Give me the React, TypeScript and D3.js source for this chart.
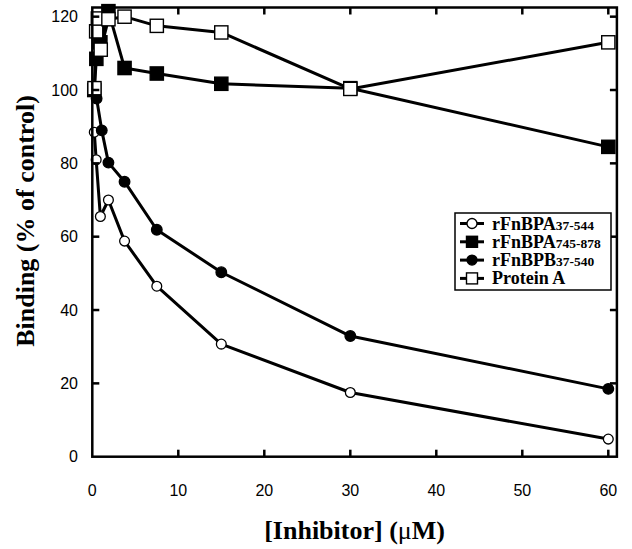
import { useEffect, useRef } from "react";
import * as d3 from "d3";

// concentrations (uM) and binding values (% of control)
const openCircleX = [0.23, 0.45, 0.94, 1.875, 3.75, 7.5, 15, 30, 60];
const openCircleY = [88.5, 81, 65.5, 70, 58.8, 46.5, 30.7, 17.5, 4.8];

const filledSquareX = [0.23, 0.47, 0.94, 1.875, 3.75, 7.5, 15, 30, 60];
const filledSquareY = [100, 108.5, 113, 121.5, 106, 104.5, 101.7, 100.5, 84.5];

const filledCircleX = [0.23, 0.5, 1.1, 1.875, 3.75, 7.5, 15, 30, 60];
const filledCircleY = [100, 97.7, 89, 80.2, 75, 61.9, 50.3, 32.9, 18.5];

const proteinAX = [0.25, 0.45, 0.65, 0.98, 1.875, 3.75, 7.5, 15, 30, 60];
const proteinAY = [100.5, 116, 119.5, 111, 119.3, 120, 117.5, 115.7, 100.3, 113];

const legendNames = ["rFnBPA", "rFnBPA", "rFnBPB", "Protein A"];
const legendSubs = ["37-544", "745-878", "37-540", ""];

const xTicks = [0, 10, 20, 30, 40, 50, 60];
const yTicks = [0, 20, 40, 60, 80, 100, 120];

const SANS = "'Liberation Sans', Arial, Helvetica, sans-serif";
const SERIF = "'Liberation Serif', 'Times New Roman', Times, serif";

export default function App() {
  const ref = useRef<SVGSVGElement>(null);

  useEffect(() => {
    if (!ref.current) return;
    const svg = d3.select(ref.current);
    svg.selectAll("*").remove();

    const left = 92.3, top = 7.5, bottom = 456.7;
    const x = d3.scaleLinear().domain([0, 61]).range([left, left + 61 * 8.6]);
    const y = d3.scaleLinear().domain([0, 122.5]).range([bottom, top]);
    const right = x(61);

    const series = [
      { xs: openCircleX, ys: openCircleY, shape: "circle", fill: "#fff", r: 4.9 },
      { xs: filledSquareX, ys: filledSquareY, shape: "square", fill: "#000", r: 6.6 },
      { xs: filledCircleX, ys: filledCircleY, shape: "circle", fill: "#000", r: 5.3 },
      { xs: proteinAX, ys: proteinAY, shape: "square", fill: "#fff", r: 6.6 },
    ];

    const drawMarker = (g: any, cx: number, cy: number, s: any) => {
      if (s.shape === "circle") {
        g.append("circle")
          .attr("cx", cx).attr("cy", cy).attr("r", s.r)
          .attr("fill", s.fill).attr("stroke", "#000").attr("stroke-width", 1.3);
      } else {
        g.append("rect")
          .attr("x", cx - s.r).attr("y", cy - s.r)
          .attr("width", s.r * 2).attr("height", s.r * 2)
          .attr("fill", s.fill).attr("stroke", "#000").attr("stroke-width", 1.4);
      }
    };

    // data
    const line = d3.line<[number, number]>().x((d) => x(d[0])).y((d) => y(d[1]));
    series.forEach((s) => {
      const pts = s.xs.map((v, i) => [v, s.ys[i]] as [number, number]);
      const g = svg.append("g");
      g.append("path")
        .attr("d", line(pts))
        .attr("fill", "none")
        .attr("stroke", "#000")
        .attr("stroke-width", 3)
        .attr("stroke-linejoin", "round");
      pts.forEach((p) => drawMarker(g, x(p[0]), y(p[1]), s));
    });

    // frame + inward ticks on all sides
    svg.append("rect")
      .attr("x", left).attr("y", top)
      .attr("width", right - left).attr("height", bottom - top)
      .attr("fill", "none").attr("stroke", "#000").attr("stroke-width", 2.5);

    const tl = 7;
    xTicks.slice(1).forEach((t) => {
      svg.append("line").attr("x1", x(t)).attr("x2", x(t)).attr("y1", bottom).attr("y2", bottom - tl)
        .attr("stroke", "#000").attr("stroke-width", 2.5);
      svg.append("line").attr("x1", x(t)).attr("x2", x(t)).attr("y1", top).attr("y2", top + tl)
        .attr("stroke", "#000").attr("stroke-width", 2.5);
    });
    yTicks.slice(1).forEach((t) => {
      svg.append("line").attr("x1", left).attr("x2", left + tl).attr("y1", y(t)).attr("y2", y(t))
        .attr("stroke", "#000").attr("stroke-width", 2.5);
      svg.append("line").attr("x1", right).attr("x2", right - tl).attr("y1", y(t)).attr("y2", y(t))
        .attr("stroke", "#000").attr("stroke-width", 2.5);
    });

    // tick labels
    svg.append("g").selectAll("text")
      .data(xTicks)
      .join("text")
      .attr("x", (d) => x(d))
      .attr("y", 490)
      .attr("text-anchor", "middle")
      .attr("dominant-baseline", "central")
      .style("font-family", SANS)
      .style("font-size", "16px")
      .text((d) => d);

    svg.append("g").selectAll("text")
      .data(yTicks)
      .join("text")
      .attr("x", 78)
      .attr("y", (d) => y(d))
      .attr("text-anchor", "end")
      .attr("dominant-baseline", "central")
      .style("font-family", SANS)
      .style("font-size", "16px")
      .text((d) => d);

    // axis titles
    svg.append("text")
      .attr("transform", `translate(34,221) rotate(-90)`)
      .attr("text-anchor", "middle")
      .style("font-family", SERIF)
      .style("font-size", "26px")
      .style("font-weight", "bold")
      .text("Binding (% of control)");

    const xt = svg.append("text")
      .attr("x", (left + right) / 2)
      .attr("y", 539)
      .attr("text-anchor", "middle")
      .style("font-family", SERIF)
      .style("font-size", "26px")
      .style("font-weight", "bold");
    xt.append("tspan").text("[Inhibitor] (");
    xt.append("tspan").style("font-weight", "normal").text("μ");
    xt.append("tspan").text("M)");

    // legend
    const lg = svg.append("g");
    lg.append("rect")
      .attr("x", 455).attr("y", 213)
      .attr("width", 156).attr("height", 77)
      .attr("fill", "#fff").attr("stroke", "#000").attr("stroke-width", 1.5);
    legendNames.forEach((name, i) => {
      const ry = 223.5 + i * 18.3;
      const s = { ...series[i], r: series[i].shape === "square" ? 5.5 : 5 };
      lg.append("line").attr("x1", 460).attr("x2", 484).attr("y1", ry).attr("y2", ry)
        .attr("stroke", "#000").attr("stroke-width", 3);
      drawMarker(lg, 472, ry, s);
      const t = lg.append("text")
        .attr("x", 492)
        .attr("y", ry + 6)
        .style("font-family", SERIF)
        .style("font-size", "18px")
        .style("font-weight", "bold");
      t.append("tspan").text(name);
      if (legendSubs[i]) {
        t.append("tspan").style("font-size", "13.5px").text(legendSubs[i]);
      }
    });
  }, []);

  return (
    <svg
      ref={ref}
      width={632}
      height={549}
      style={{ position: "absolute", left: 0, top: 0, background: "#fff" }}
    ></svg>
  );
}
